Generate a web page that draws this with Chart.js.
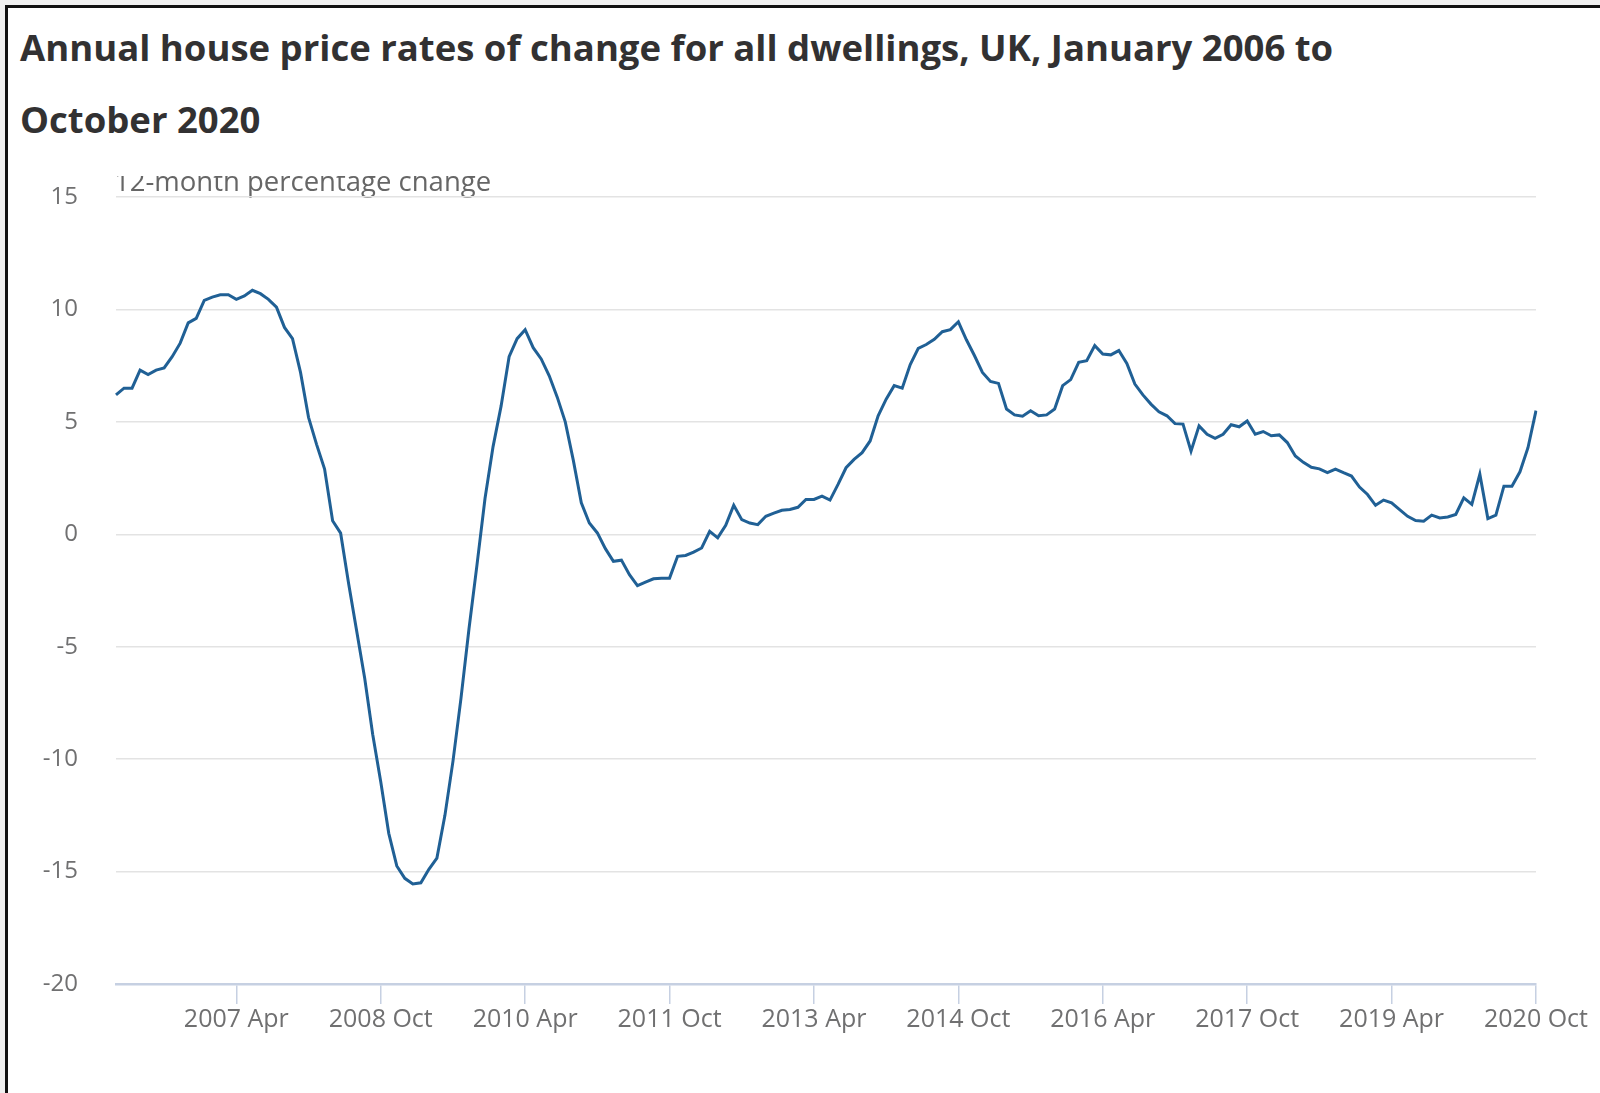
<!DOCTYPE html>
<html>
<head>
<meta charset="utf-8">
<script src="https://cdn.jsdelivr.net/npm/chart.js@4.4.1/dist/chart.umd.min.js"></script>
<style>
  html, body { margin: 0; padding: 0; }
  body { width: 1600px; height: 1093px; background: #f0f0f0; position: relative; overflow: hidden; }
  .frame { position: absolute; left: 5px; top: 5px; width: 1700px; height: 1200px;
           border-left: 3px solid #111; border-top: 3px solid #111; background: #fff; }
  .title { position: absolute; left: 20px; top: 11px; font-family: "Open Sans", sans-serif;
           font-weight: bold; font-size: 36.5px; line-height: 72px; color: #323132; white-space: nowrap; }
  .wrap { position: absolute; left: 0; top: 176px; width: 1600px; height: 917px; }
</style>
</head>
<body>
<div class="frame"></div>
<div class="title">Annual house price rates of change for all dwellings, UK, January 2006 to<br>October 2020</div>
<div class="wrap"><canvas id="hpiChart" width="1600" height="917"></canvas></div>
<script>
// monthly categories, Jan 2006 .. Oct 2020
var monthNames = ['Jan','Feb','Mar','Apr','May','Jun','Jul','Aug','Sep','Oct','Nov','Dec'];
var firstYear = 2006;
var lastYear = 2020;
var lastMonth = 10;

// labels shown under the axis
var tickLabels = ['2007 Apr','2008 Oct','2010 Apr','2011 Oct','2013 Apr','2014 Oct','2016 Apr','2017 Oct','2019 Apr','2020 Oct'];

// 12-month percentage change, one value per month
var rate2006 = [6.2, 6.5, 6.5, 7.3, 7.1, 7.3, 7.4, 7.9, 8.5, 9.4, 9.6, 10.4];
var rate2007 = [10.55, 10.65, 10.65, 10.45, 10.6, 10.85, 10.7, 10.45, 10.1, 9.2, 8.7, 7.2];
var rate2008 = [5.2, 4.0, 2.9, 0.6, 0.05, -2.2, -4.3, -6.4, -8.9, -11.0, -13.3, -14.75];
var rate2009 = [-15.3, -15.55, -15.5, -14.9, -14.4, -12.5, -10.1, -7.3, -4.2, -1.35, 1.6, 3.9];
var rate2010 = [5.7, 7.9, 8.7, 9.1, 8.3, 7.8, 7.05, 6.1, 5.0, 3.3, 1.4, 0.5];
var rate2011 = [0.06, -0.64, -1.2, -1.15, -1.8, -2.28, -2.13, -1.98, -1.95, -1.95, -0.98, -0.94];
var rate2012 = [-0.79, -0.61, 0.13, -0.16, 0.4, 1.29, 0.65, 0.5, 0.43, 0.8, 0.94, 1.07];
var rate2013 = [1.1, 1.2, 1.55, 1.55, 1.7, 1.52, 2.22, 2.96, 3.33, 3.63, 4.15, 5.27];
var rate2014 = [6.01, 6.61, 6.5, 7.55, 8.27, 8.44, 8.67, 9.01, 9.1, 9.45, 8.65, 7.95];
var rate2015 = [7.2, 6.8, 6.71, 5.57, 5.31, 5.25, 5.49, 5.27, 5.31, 5.57, 6.61, 6.88];
var rate2016 = [7.65, 7.72, 8.39, 8.02, 7.98, 8.17, 7.6, 6.68, 6.2, 5.79, 5.45, 5.27];
var rate2017 = [4.92, 4.9, 3.7, 4.82, 4.45, 4.27, 4.45, 4.87, 4.78, 5.04, 4.45, 4.57];
var rate2018 = [4.38, 4.42, 4.08, 3.48, 3.2, 2.98, 2.91, 2.74, 2.9, 2.74, 2.59, 2.1];
var rate2019 = [1.77, 1.29, 1.52, 1.4, 1.1, 0.8, 0.61, 0.58, 0.85, 0.73, 0.77, 0.88];
var rate2020 = [1.62, 1.33, 2.67, 0.7, 0.85, 2.14, 2.14, 2.78, 3.85, 5.5];

var yTitle = '12-month percentage change';

var labels = [];
for (var y = firstYear; y <= lastYear; y++) {
    for (var m = 0; m < 12; m++) {
        if (y == lastYear && m >= lastMonth) break;
        labels.push(y + ' ' + monthNames[m]);
    }
}
var values = [].concat(rate2006, rate2007, rate2008, rate2009, rate2010, rate2011, rate2012,
    rate2013, rate2014, rate2015, rate2016, rate2017, rate2018, rate2019, rate2020);

var FONT = '"Open Sans", sans-serif';
var TICK_COLOR = '#707071';

// caption sits at the very top of the canvas so its top gets cut off, like the original
var captionPlugin = {
    id: 'caption',
    beforeDraw: function(chart) {
        var ctx = chart.ctx;
        ctx.save();
        ctx.font = '27.5px ' + FONT;
        ctx.fillStyle = '#666666';
        ctx.textAlign = 'left';
        ctx.textBaseline = 'alphabetic';
        ctx.fillText(yTitle, chart.chartArea.left - 2, 15);
        ctx.restore();
    }
};

var ctx = document.getElementById('hpiChart').getContext('2d');
var hpiChart = new Chart(ctx, {
    type: 'line',
    data: {
        labels: labels,
        datasets: [{
            data: values,
            borderColor: '#206095',
            borderWidth: 3,
            pointRadius: 0,
            tension: 0,
            fill: false
        }]
    },
    options: {
        responsive: false,
        animation: false,
        devicePixelRatio: 1,
        layout: { padding: { left: 0, top: 21, right: 64, bottom: 49 } },
        plugins: { legend: { display: false }, tooltip: { enabled: false } },
        scales: {
            x: {
                grid: {
                    drawOnChartArea: false,
                    drawTicks: true,
                    tickLength: 20,
                    lineWidth: 1.5,
                    color: function(c) {
                        return tickLabels.indexOf(labels[c.index]) >= 0 ? '#c6d0e2' : 'rgba(0,0,0,0)';
                    }
                },
                border: { display: true, color: '#c6d0e2', width: 2.5 },
                ticks: {
                    autoSkip: false,
                    maxRotation: 0,
                    minRotation: 0,
                    padding: 1,
                    color: TICK_COLOR,
                    font: { family: FONT, size: 25 },
                    callback: function(value, index) {
                        return tickLabels.indexOf(labels[index]) >= 0 ? labels[index] : '';
                    }
                },
                afterFit: function(scale) { scale.height = 60; scale.paddingLeft = 0; scale.paddingRight = 0; }
            },
            y: {
                min: -20,
                max: 15,
                grid: {
                    drawTicks: false,
                    lineWidth: 1.5,
                    color: function(c) {
                        return c.tick && c.tick.value == -20 ? 'rgba(0,0,0,0)' : '#e3e3e3';
                    }
                },
                border: { display: false },
                ticks: {
                    stepSize: 5,
                    padding: 38,
                    color: TICK_COLOR,
                    font: { family: FONT, size: 24 }
                },
                afterFit: function(scale) { scale.width = 116; scale.paddingTop = 0; scale.paddingBottom = 0; }
            }
        }
    },
    plugins: [captionPlugin]
});
</script>
</body>
</html>
